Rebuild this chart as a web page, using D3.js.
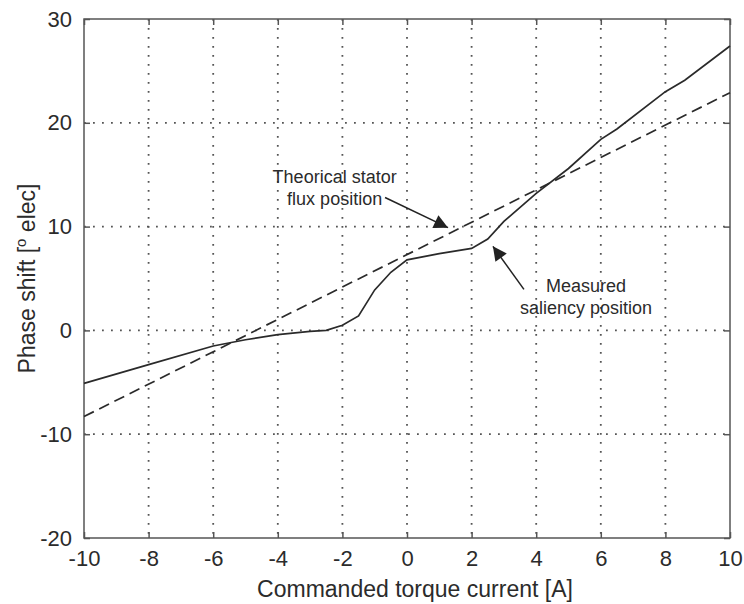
<!DOCTYPE html>
<html>
<head>
<meta charset="utf-8">
<script src="https://d3js.org/d3.v7.min.js"></script>
<style>
  body { margin: 0; background: #fff; }
  text { font-family: "Liberation Sans", Arial, sans-serif; fill: #2b2b2b; }
</style>
</head>
<body>
<svg></svg>
<script>
// commanded torque current [A]
var currentA = [-10, -8, -6, -5, -4, -3, -2.5, -2, -1.5, -1, -0.5, 0, 1, 2, 2.5, 3, 4, 5, 6, 6.5, 8, 8.6, 10];
// measured saliency position [deg elec]
var measured = [-5.1, -3.3, -1.5, -0.9, -0.4, -0.1, 0, 0.5, 1.4, 3.9, 5.6, 6.8, 7.4, 7.9, 8.8, 10.5, 13.2, 15.6, 18.4, 19.4, 23.0, 24.1, 27.4];
// theoretical stator flux position
var theoryA = [-10, 10];
var theory = [-8.3, 22.9];

var xTicks = [-10, -8, -6, -4, -2, 0, 2, 4, 6, 8, 10];
var yTicks = [-20, -10, 0, 10, 20, 30];

var W = 744, H = 604;
var mLeft = 84, mRight = 730, mTop = 19, mBottom = 538;

var svg = d3.select('svg').attr('width', W).attr('height', H);

var x = d3.scaleLinear().domain([-10, 10]).range([mLeft, mRight]);
var y = d3.scaleLinear().domain([-20, 30]).range([mBottom, mTop]);

var axisCol = '#555';
var lineCol = '#2a2a2a';
var fmt = d => String(d);

// dotted grid
svg.append('g').selectAll('line')
  .data(xTicks.slice(1, -1))
  .enter().append('line')
    .attr('x1', d => x(d)).attr('x2', d => x(d))
    .attr('y1', mTop).attr('y2', mBottom)
    .style('stroke', '#555').style('stroke-width', 1.8)
    .style('stroke-dasharray', '1.8,7.2');

svg.append('g').selectAll('line')
  .data(yTicks.slice(1, -1))
  .enter().append('line')
    .attr('x1', mLeft).attr('x2', mRight)
    .attr('y1', d => y(d)).attr('y2', d => y(d))
    .style('stroke', '#555').style('stroke-width', 1.8)
    .style('stroke-dasharray', '1.8,7.2');

// axes with inward ticks on all four sides
function styleAxis(g) {
  g.selectAll('.domain').remove();
  g.selectAll('line').style('stroke', axisCol).style('stroke-width', 1.5);
  g.selectAll('text').style('font-size', '22px').style('fill', '#2b2b2b')
    .style('font-family', '"Liberation Sans", Arial, sans-serif');
}

svg.append('g').attr('transform', 'translate(0,' + mBottom + ')')
  .call(d3.axisBottom(x).tickValues(xTicks).tickSizeInner(-6).tickSizeOuter(0).tickPadding(12).tickFormat(fmt))
  .call(styleAxis);
svg.append('g').attr('transform', 'translate(0,' + mTop + ')')
  .call(d3.axisTop(x).tickValues(xTicks).tickSizeInner(-6).tickSizeOuter(0).tickFormat(''))
  .call(styleAxis);
svg.append('g').attr('transform', 'translate(' + mLeft + ',0)')
  .call(d3.axisLeft(y).tickValues(yTicks).tickSizeInner(-6).tickSizeOuter(0).tickPadding(12).tickFormat(fmt))
  .call(styleAxis);
svg.append('g').attr('transform', 'translate(' + mRight + ',0)')
  .call(d3.axisRight(y).tickValues(yTicks).tickSizeInner(-6).tickSizeOuter(0).tickFormat(''))
  .call(styleAxis);

// frame
svg.append('rect')
  .attr('x', mLeft).attr('y', mTop)
  .attr('width', mRight - mLeft).attr('height', mBottom - mTop)
  .style('fill', 'none').style('stroke', axisCol).style('stroke-width', 1.5);

// lines
var line = d3.line().x(d => x(d[0])).y(d => y(d[1]));

svg.append('path')
  .datum(theoryA.map((d, i) => [d, theory[i]]))
  .attr('d', line)
  .style('fill', 'none').style('stroke', lineCol).style('stroke-width', 1.7)
  .style('stroke-dasharray', '11,6');

svg.append('path')
  .datum(currentA.map((d, i) => [d, measured[i]]))
  .attr('d', line)
  .style('fill', 'none').style('stroke', lineCol).style('stroke-width', 1.7);

// annotations
svg.append('defs').append('marker')
  .attr('id', 'head')
  .attr('viewBox', '0 0 10 10')
  .attr('refX', 10).attr('refY', 5)
  .attr('markerWidth', 18).attr('markerHeight', 14)
  .attr('markerUnits', 'userSpaceOnUse')
  .attr('orient', 'auto')
  .append('path').attr('d', 'M0,0L10,5L0,10Z').style('fill', '#222');

var arrows = [
  { from: [-0.68, 12.8], to: [1.27, 9.9] },
  { from: [3.62, 3.95], to: [2.66, 8.1] }
];
svg.append('g').selectAll('line')
  .data(arrows)
  .enter().append('line')
    .attr('x1', d => x(d.from[0])).attr('y1', d => y(d.from[1]))
    .attr('x2', d => x(d.to[0])).attr('y2', d => y(d.to[1]))
    .style('stroke', '#222').style('stroke-width', 1.5)
    .attr('marker-end', 'url(#head)');

var notes = [
  { t: 'Theorical stator', at: [-2.24, 14.2] },
  { t: 'flux position', at: [-2.24, 12.1] },
  { t: 'Measured', at: [5.54, 3.7] },
  { t: 'saliency position', at: [5.54, 1.6] }
];
svg.append('g').selectAll('text')
  .data(notes)
  .enter().append('text')
    .attr('x', d => x(d.at[0])).attr('y', d => y(d.at[1]))
    .attr('text-anchor', 'middle')
    .style('font-size', '18px')
    .text(d => d.t);

// axis titles
svg.append('text')
  .attr('x', 415).attr('y', 597)
  .attr('text-anchor', 'middle')
  .style('font-size', '23px')
  .text('Commanded torque current [A]');

var yl = svg.append('text')
  .attr('transform', 'translate(35,' + (mTop + mBottom) / 2 + ') rotate(-90)')
  .attr('text-anchor', 'middle')
  .style('font-size', '23px');
yl.append('tspan').text('Phase shift [');
yl.append('tspan').attr('dy', -9).style('font-size', '15px').text('o');
yl.append('tspan').attr('dy', 9).text(' elec]');
</script>
</body>
</html>
